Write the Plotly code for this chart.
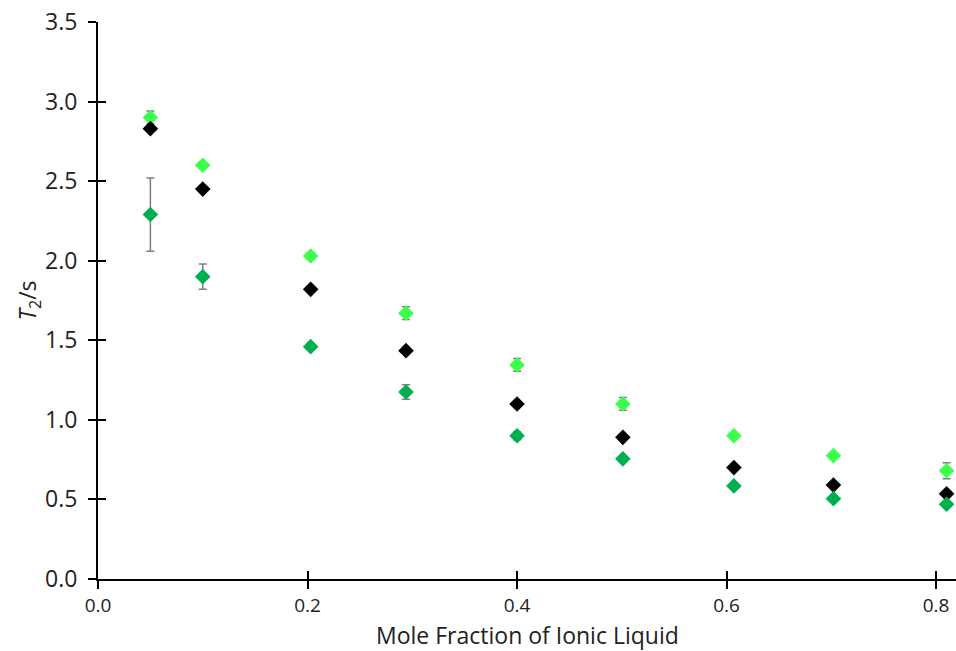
import plotly.graph_objects as go

x_frac = [0.05, 0.10, 0.203, 0.294, 0.40, 0.501, 0.607, 0.702, 0.81]

light_y = [2.90, 2.60, 2.03, 1.67, 1.345, 1.10, 0.90, 0.775, 0.68]
light_err = [0.04, 0.02, 0.02, 0.04, 0.04, 0.04, 0.02, 0.015, 0.05]

black_y = [2.83, 2.45, 1.82, 1.435, 1.10, 0.89, 0.70, 0.59, 0.535]
black_err = [0.01, 0.01, 0.01, 0.01, 0.01, 0.01, 0.01, 0.01, 0.01]

dark_y = [2.29, 1.90, 1.46, 1.175, 0.90, 0.755, 0.585, 0.505, 0.47]
dark_err = [0.23, 0.08, 0.02, 0.045, 0.025, 0.02, 0.015, 0.015, 0.015]

y_ticks = [0.0, 0.5, 1.0, 1.5, 2.0, 2.5, 3.0, 3.5]
x_ticks = [0.0, 0.2, 0.4, 0.6, 0.8]

x_title = "Mole Fraction of Ionic Liquid"
y_title = "<i>T</i><sub>2</sub>/s"

err_style = dict(type="data", color="#7f7f7f", thickness=1.5, width=4)

fig = go.Figure()
for ys, errs, col in [(light_y, light_err, "#3cff4c"),
                      (black_y, black_err, "#000000"),
                      (dark_y, dark_err, "#00b050")]:
    fig.add_trace(go.Scatter(
        x=x_frac, y=ys, mode="markers",
        marker=dict(symbol="diamond", size=12, color=col),
        error_y=dict(array=errs, **err_style),
        showlegend=False,
    ))

# invisible trace for overlay axes (inner halves of crossing ticks)
fig.add_trace(go.Scatter(x=[0], y=[0], xaxis="x2", yaxis="y2",
                         mode="markers", marker=dict(opacity=0),
                         showlegend=False, hoverinfo="skip"))

ytickfont = dict(family="Open Sans, sans-serif", size=23, color="#222")
xtickfont = dict(family="Open Sans, sans-serif", size=19, color="#222")
titlefont = dict(family="Open Sans, sans-serif", size=23, color="#222")

fig.update_layout(
    width=956, height=651,
    margin=dict(l=98, r=0, t=22, b=72),
    plot_bgcolor="white", paper_bgcolor="white",
    xaxis=dict(range=[0, 0.819], tickvals=x_ticks,
               ticktext=[f"{v:.1f}" for v in x_ticks],
               showgrid=False, zeroline=False,
               showline=True, linecolor="black", linewidth=2,
               ticks="outside", ticklen=8, tickwidth=1.5, tickcolor="black",
               tickfont=xtickfont, ticklabelstandoff=0),
    yaxis=dict(range=[0, 3.5], tickvals=y_ticks,
               ticktext=[f"{v:.1f}" for v in y_ticks],
               showgrid=False, zeroline=False,
               showline=True, linecolor="black", linewidth=2,
               ticks="outside", ticklen=8, tickwidth=1.5, tickcolor="black",
               tickfont=ytickfont, ticklabelstandoff=6,
               title=dict(text=y_title, font=titlefont, standoff=2)),
    xaxis2=dict(overlaying="x", matches="x", range=[0, 0.819], tickvals=x_ticks,
                showticklabels=False, showgrid=False, zeroline=False, showline=False,
                ticks="inside", ticklen=8, tickwidth=1.5, tickcolor="black"),
    yaxis2=dict(overlaying="y", matches="y", range=[0, 3.5], tickvals=y_ticks,
                showticklabels=False, showgrid=False, zeroline=False, showline=False,
                ticks="inside", ticklen=8, tickwidth=1.5, tickcolor="black"),
    annotations=[dict(text=x_title, xref="paper", yref="paper",
                      x=0.5, y=-0.0997, xanchor="center", yanchor="middle",
                      showarrow=False, font=titlefont)],
)

fig.write_html("out.html")
